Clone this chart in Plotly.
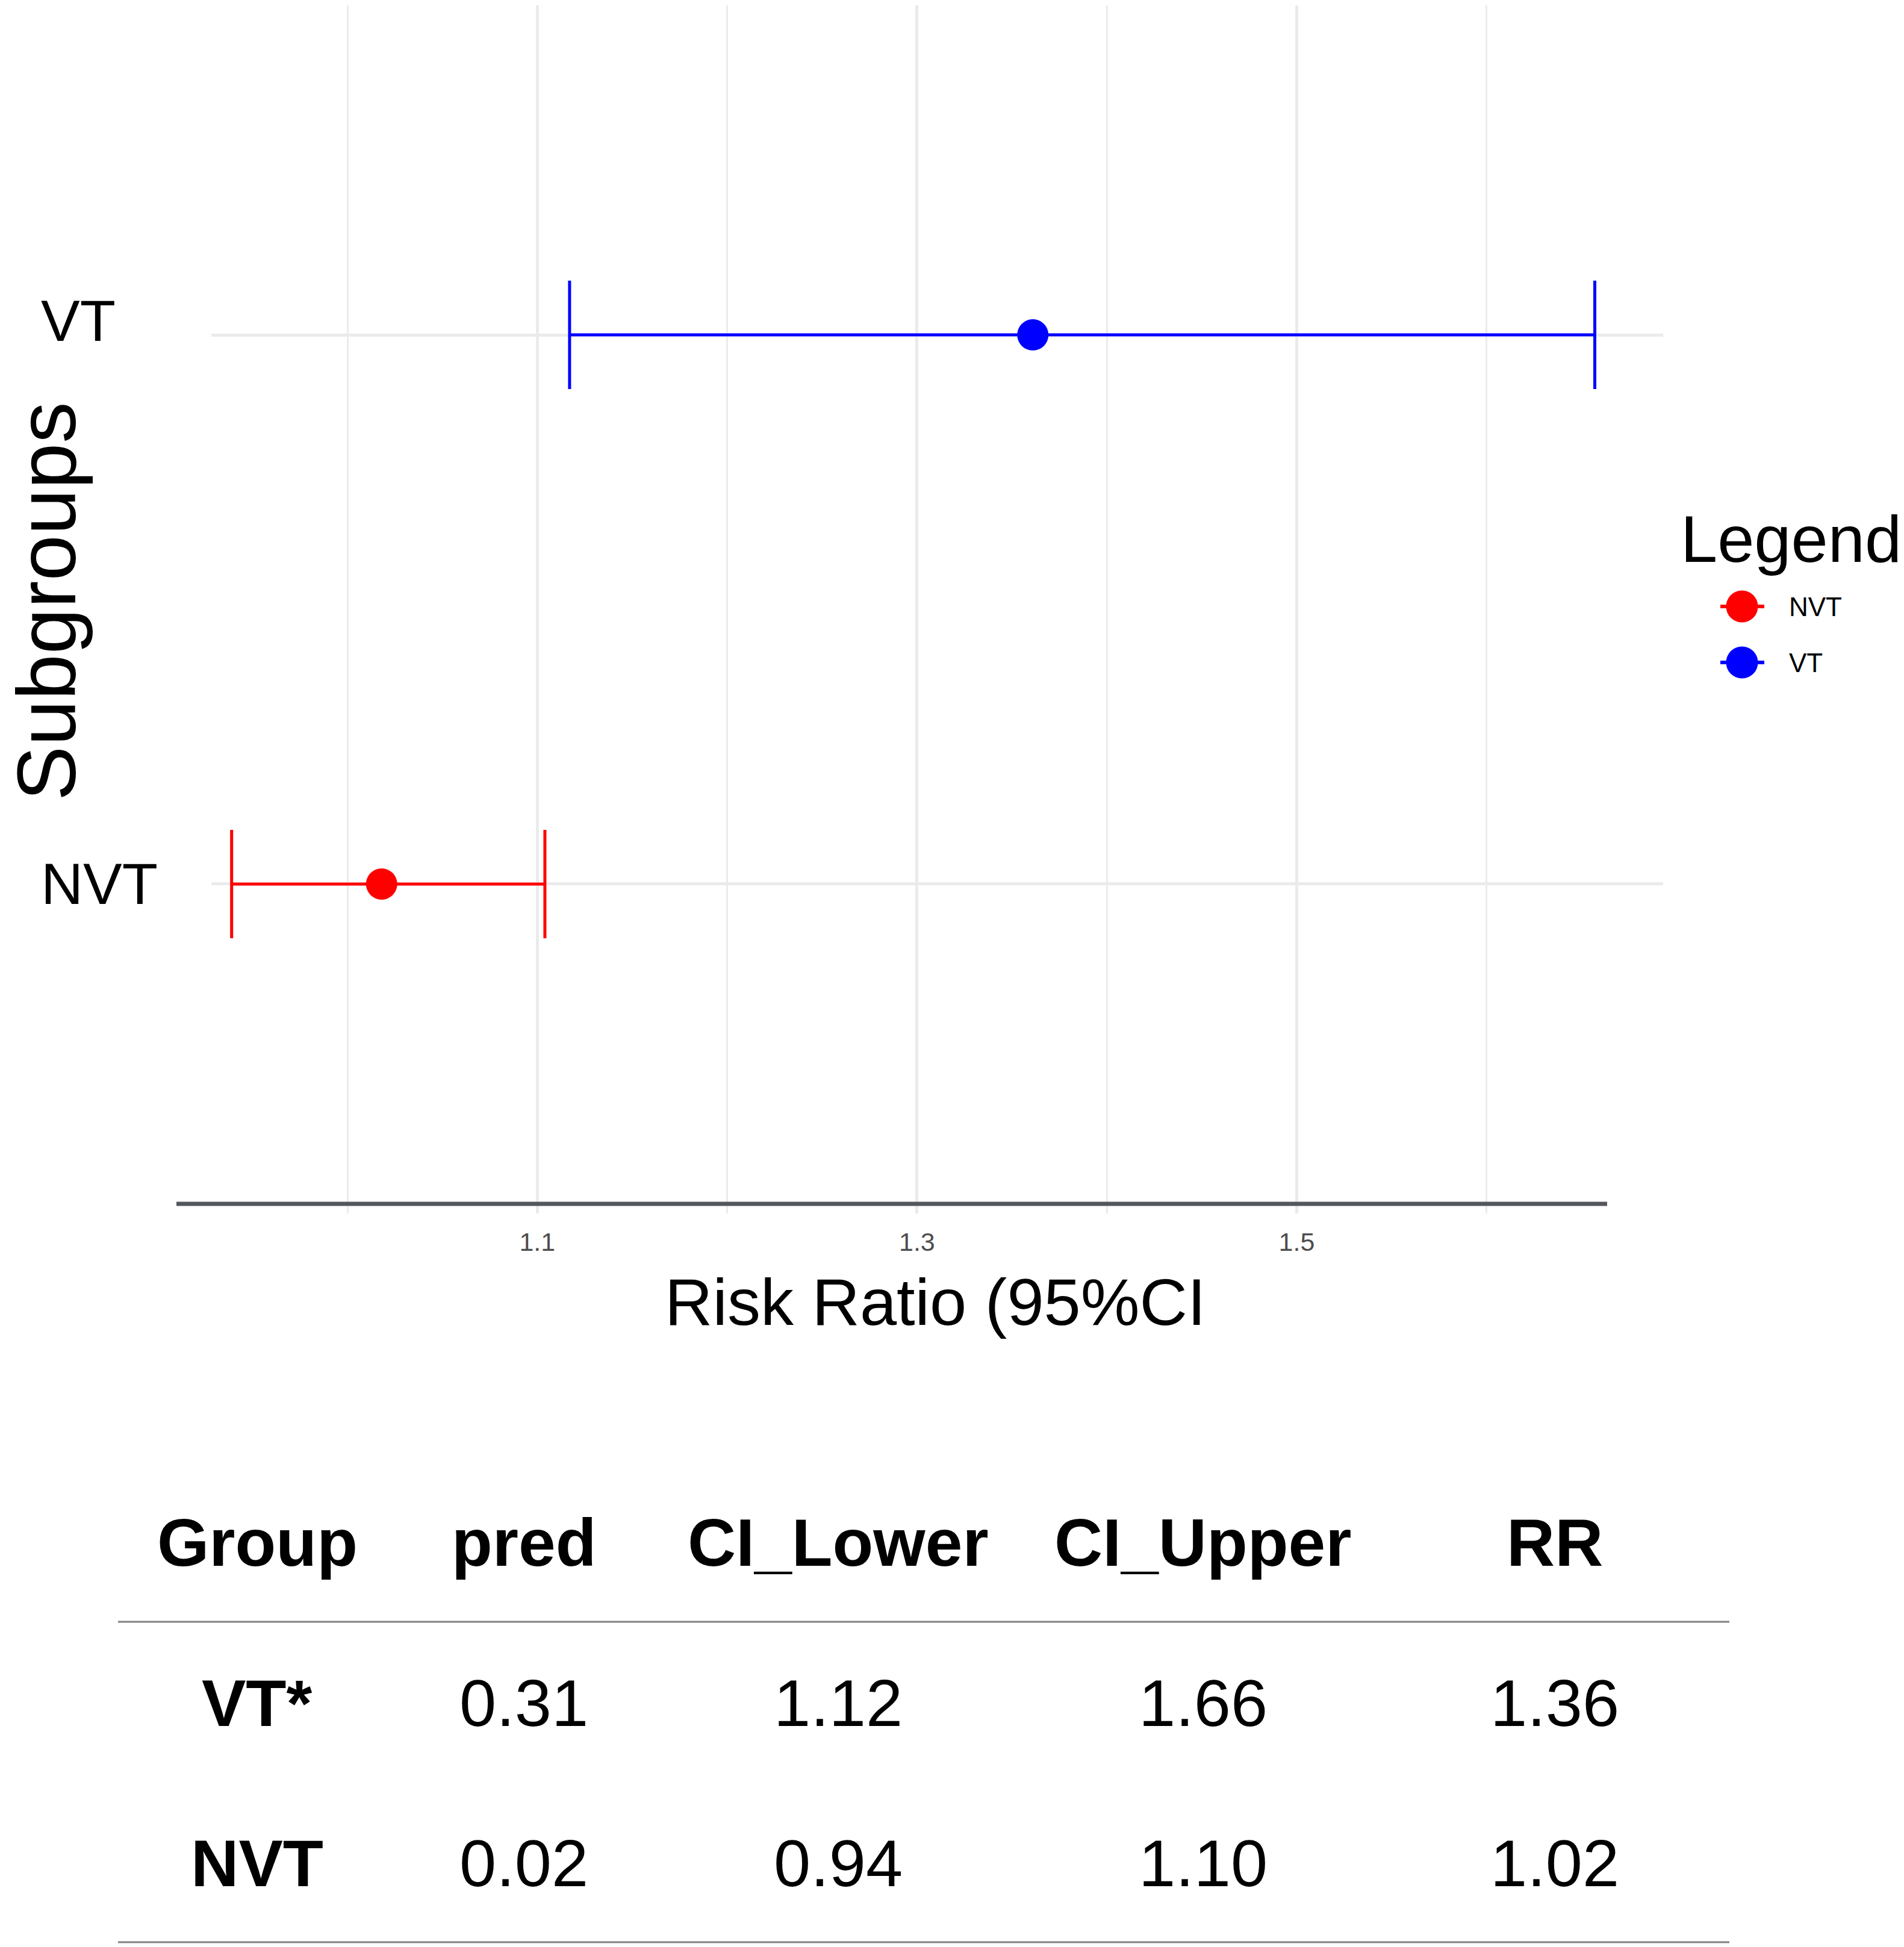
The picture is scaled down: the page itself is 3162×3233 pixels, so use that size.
import plotly.graph_objects as go

# ---------------- data ----------------
groups = ["NVT", "VT"]
group_labels = ["NVT", "VT*"]
pred = [0.02, 0.31]
rr = [1.018, 1.361]
ci_lower = [0.939, 1.117]
ci_upper = [1.104, 1.657]
colors = ["#FF0000", "#0000FF"]
x_tickvals = [1.1, 1.3, 1.5]
x_minorvals = [1.0, 1.2, 1.4, 1.6]
table_headers = ["Group", "pred", "CI_Lower", "CI_Upper", "RR"]

W, H = 3162, 3233
FONT = "Liberation Sans, Arial, Helvetica, sans-serif"


def px(x):
    return x / W


def py(y):
    return 1 - y / H


def mid(baseline, size):
    # vertical centre of a text box whose baseline is at `baseline` (pixels)
    return py(baseline - 0.3465 * size)


fig = go.Figure()

for i, g in enumerate(groups):
    fig.add_trace(go.Scatter(
        x=[rr[i]], y=[g], mode="markers", name=g, showlegend=False,
        marker=dict(color=colors[i], size=52, line=dict(width=0)),
        error_x=dict(type="data", symmetric=False,
                     array=[ci_upper[i] - rr[i]],
                     arrayminus=[rr[i] - ci_lower[i]],
                     color=colors[i], thickness=5, width=90),
    ))

annotations = []
shapes = []

# y category labels (left aligned, as in reference)
for g in groups:
    annotations.append(dict(
        x=px(66), xref="paper", y=g, yref="y", xanchor="left", yanchor="middle",
        text=g, showarrow=False, yshift=24 if g == "VT" else 0,
        font=dict(family=FONT, size=97, color="black")))

# axis titles
annotations.append(dict(x=px(78), y=py(999), xref="paper", yref="paper",
                        text="Subgroups", textangle=-90, showarrow=False,
                        xanchor="center", yanchor="middle",
                        font=dict(family=FONT, size=137, color="black")))
annotations.append(dict(x=px(1553), y=mid(2200, 110), xref="paper", yref="paper",
                        text="Risk Ratio (95%CI", showarrow=False,
                        xanchor="center", yanchor="middle",
                        font=dict(family=FONT, size=110, color="black")))

# x axis line (dark)
shapes.append(dict(type="line", xref="paper", yref="paper",
                   x0=px(293), x1=px(2669), y0=py(1999), y1=py(1999),
                   line=dict(color="#53575B", width=7)))

# legend
annotations.append(dict(x=px(2789), y=mid(933, 110), xref="paper", yref="paper",
                        text="Legend", showarrow=False, xanchor="left", yanchor="middle",
                        font=dict(family=FONT, size=110, color="black")))
leg_y = {"NVT": 1007, "VT": 1100}
for i, g in enumerate(groups):
    yy = leg_y[g]
    shapes.append(dict(type="line", xref="paper", yref="paper",
                       x0=px(2857), x1=px(2930), y0=py(yy), y1=py(yy),
                       line=dict(color=colors[i], width=6)))
    shapes.append(dict(type="circle", xref="paper", yref="paper",
                       x0=px(2893 - 26.5), x1=px(2893 + 26.5),
                       y0=py(yy + 26.5), y1=py(yy - 26.5),
                       fillcolor=colors[i], line=dict(width=0)))
    annotations.append(dict(x=px(2969), y=py(yy), xref="paper", yref="paper",
                            text=g, showarrow=False, xanchor="left", yanchor="middle",
                            font=dict(family=FONT, size=44, color="black")))

# table
col_x = [427, 870, 1392, 1998, 2582]
for j, h in enumerate(table_headers):
    annotations.append(dict(x=px(col_x[j]), y=mid(2600, 111), xref="paper", yref="paper",
                            text="<b>%s</b>" % h, showarrow=False,
                            xanchor="center", yanchor="middle",
                            font=dict(family=FONT, size=111, color="black")))
row_base = [3132, 2866]  # NVT row below VT row
for i in range(len(groups)):
    vals = ["<b>%s</b>" % group_labels[i], "%.2f" % pred[i], "%.2f" % ci_lower[i],
            "%.2f" % ci_upper[i], "%.2f" % rr[i]]
    for j, v in enumerate(vals):
        annotations.append(dict(x=px(col_x[j]), y=mid(row_base[i], 110),
                                xref="paper", yref="paper", text=v, showarrow=False,
                                xanchor="center", yanchor="middle",
                                font=dict(family=FONT, size=110, color="black")))
for yy in (2693, 3225):
    shapes.append(dict(type="line", xref="paper", yref="paper",
                       x0=px(196), x1=px(2872), y0=py(yy), y1=py(yy),
                       line=dict(color="#808080", width=3)))

fig.update_layout(
    width=W, height=H,
    margin=dict(l=0, r=0, t=0, b=0),
    paper_bgcolor="white", plot_bgcolor="white",
    showlegend=False,
    font=dict(family=FONT),
    annotations=annotations,
    shapes=shapes,
    xaxis=dict(
        domain=[px(351), px(2762)],
        range=[0.92832, 1.69299],
        tickmode="array", tickvals=x_tickvals,
        ticktext=["%.1f" % v for v in x_tickvals],
        tickfont=dict(family=FONT, size=43, color="#4D4D4D"),
        showgrid=True, gridcolor="#EBEBEB", gridwidth=4.5,
        minor=dict(tickmode="array", tickvals=x_minorvals, showgrid=True,
                   gridcolor="#EBEBEB", gridwidth=2.5),
        zeroline=False, showline=False, ticks="",
        ticklabelstandoff=18,
    ),
    yaxis=dict(
        domain=[py(2015), py(9)],
        type="category", categoryorder="array", categoryarray=groups,
        range=[-0.6, 1.6],
        showticklabels=False, showgrid=True, gridcolor="#EBEBEB", gridwidth=5,
        zeroline=False, showline=False, ticks="",
    ),
)

fig.write_html("out.html", config={"displayModeBar": False},
               post_script="document.body.style.margin='0';document.body.style.overflow='hidden';")
